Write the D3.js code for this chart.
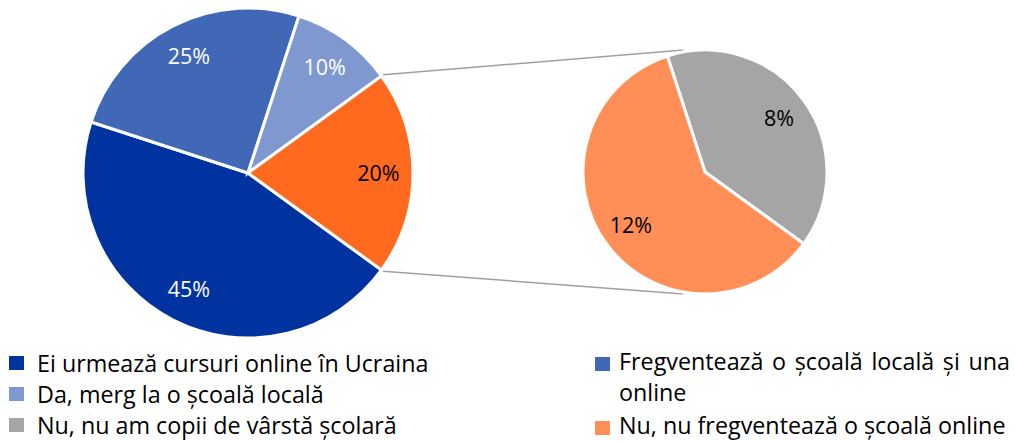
<!DOCTYPE html>
<html>
<head>
<meta charset="utf-8">
<script src="https://cdn.jsdelivr.net/npm/d3@7"></script>
<style>
  body { margin: 0; background: #fff; }
  text { font-family: "Open Sans", "Lato", sans-serif; }
</style>
</head>
<body>
<div id="chart"></div>
<script>
// main pie (orange slice = the part broken out into the second pie)
var mainLabels = ["Ei urmează cursuri online în Ucraina", "Fregventează o școală locală și una online", "Da, merg la o școală locală", "Altele"];
var mainValues = [45, 25, 10, 20];
var mainColors = ["#00339f", "#4168b7", "#7f99d0", "#ff6a1f"];
var mainText = ["#fff", "#fff", "#fff", "#000"];

// secondary pie
var subLabels = ["Nu, nu am copii de vârstă școlară", "Nu, nu fregventează o școală online"];
var subValues = [8, 12];
var subColors = ["#a5a5a5", "#ff8f57"];

// legend order as in the picture
var legendLeft = [
  {label: "Ei urmează cursuri online în Ucraina", color: "#00339f"},
  {label: "Da, merg la o școală locală", color: "#7f99d0"},
  {label: "Nu, nu am copii de vârstă școlară", color: "#a5a5a5"}
];
var legendRight = [
  {label: ["Fregventează o școală locală și una", "online"], color: "#4168b7"},
  {label: ["Nu, nu fregventează o școală online"], color: "#ff8f57"}
];

var width = 1015, height = 441;
var svg = d3.select("#chart").append("svg")
  .attr("width", width).attr("height", height);

var deg = Math.PI / 180;
var legendFont = "23.3px";
var pieFont = "21.5px";

// ---- main pie ----
var main = {cx: 248, cy: 173, r: 165};
var mainPie = d3.pie().sort(null).startAngle(126 * deg).endAngle(486 * deg);
var mainArcs = mainPie(mainValues);
var mainArc = d3.arc().innerRadius(0).outerRadius(main.r);
var mainLabelArc = d3.arc().innerRadius(main.r * 0.79).outerRadius(main.r * 0.79);

// ---- secondary pie ----
var sub = {cx: 705, cy: 172, r: 122};
var subPie = d3.pie().sort(null).startAngle(-18 * deg).endAngle(342 * deg);
var subArcs = subPie(subValues);
var subArc = d3.arc().innerRadius(0).outerRadius(sub.r);
var subLabelArc = d3.arc().innerRadius(sub.r * 0.75).outerRadius(sub.r * 0.75);

// connector lines from the broken-out slice to the second pie
var other = mainArcs[3];
function pt(c, r, a) { return [c.cx + r * Math.sin(a), c.cy - r * Math.cos(a)]; }
var lines = [
  [pt(main, main.r + 2, other.startAngle), pt(sub, sub.r + 2, -10 * deg)],
  [pt(main, main.r + 2, other.endAngle), pt(sub, sub.r + 2, 190 * deg)]
];
svg.append("g").selectAll("line").data(lines).enter().append("line")
  .attr("x1", function(d){ return d[0][0]; })
  .attr("y1", function(d){ return d[0][1]; })
  .attr("x2", function(d){ return d[1][0]; })
  .attr("y2", function(d){ return d[1][1]; })
  .style("stroke", "#a0a0a0")
  .style("stroke-width", 1.5);

var gMain = svg.append("g").attr("transform", "translate(" + main.cx + "," + main.cy + ")");
gMain.selectAll("path").data(mainArcs).enter().append("path")
  .attr("d", mainArc)
  .style("fill", function(d, i){ return mainColors[i]; })
  .style("stroke", "#fff")
  .style("stroke-width", 3);
gMain.selectAll("text").data(mainArcs).enter().append("text")
  .attr("transform", function(d){ return "translate(" + mainLabelArc.centroid(d) + ")"; })
  .attr("dy", "0.35em")
  .style("text-anchor", "middle")
  .style("font-size", pieFont)
  .style("fill", function(d, i){ return mainText[i]; })
  .text(function(d){ return d.data + "%"; });

var gSub = svg.append("g").attr("transform", "translate(" + sub.cx + "," + sub.cy + ")");
gSub.selectAll("path").data(subArcs).enter().append("path")
  .attr("d", subArc)
  .style("fill", function(d, i){ return subColors[i]; })
  .style("stroke", "#fff")
  .style("stroke-width", 3);
gSub.selectAll("text").data(subArcs).enter().append("text")
  .attr("transform", function(d){ return "translate(" + subLabelArc.centroid(d) + ")"; })
  .attr("dy", "0.35em")
  .style("text-anchor", "middle")
  .style("font-size", pieFont)
  .style("fill", "#000")
  .text(function(d){ return d.data + "%"; });

// ---- legend ----
var lineH = 31;
var gl = svg.append("g");
legendLeft.forEach(function(item, i){
  var y = 372 + i * lineH;
  gl.append("rect").attr("x", 9).attr("y", y - 16).attr("width", 15).attr("height", 14)
    .style("fill", item.color);
  gl.append("text").attr("x", 37).attr("y", y)
    .style("font-size", legendFont).style("fill", "#000")
    .text(item.label);
});

// right column, first line justified
var rightX = 619, rightEnd = 1010;
var rowY = 370;
legendRight.forEach(function(item){
  gl.append("rect").attr("x", 595).attr("y", rowY - 13).attr("width", 15).attr("height", 14)
    .style("fill", item.color);
  item.label.forEach(function(line, j){
    var y = rowY + j * lineH;
    var justify = item.label.length > 1 && j < item.label.length - 1;
    if (!justify) {
      gl.append("text").attr("x", rightX).attr("y", y)
        .style("font-size", legendFont).style("fill", "#000").text(line);
      return;
    }
    var words = line.split(" ");
    var nodes = words.map(function(w){
      return gl.append("text").attr("y", y)
        .style("font-size", legendFont).style("fill", "#000").text(w);
    });
    var total = d3.sum(nodes, function(n){ return n.node().getComputedTextLength(); });
    var gap = (rightEnd - rightX - total) / (words.length - 1);
    var x = rightX;
    nodes.forEach(function(n){
      n.attr("x", x);
      x += n.node().getComputedTextLength() + gap;
    });
  });
  rowY += item.label.length * lineH + 2;
});
</script>
</body>
</html>
